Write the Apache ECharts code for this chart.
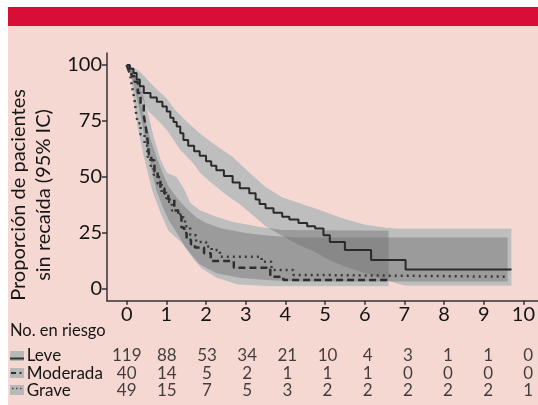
<!DOCTYPE html>
<html><head><meta charset="utf-8">
<script src="https://cdn.jsdelivr.net/npm/echarts@6/dist/echarts.min.js"></script>
<style>
html,body{margin:0;padding:0;background:#fff;}
#frame{position:absolute;left:8px;top:7px;width:530px;height:398px;background:#f6d8d3;}
#bar{position:absolute;left:8px;top:7px;width:530px;height:19px;background:#d80e37;}
#chart{position:absolute;left:0;top:0;width:538px;height:405px;}
</style></head><body>
<div id="frame"></div><div id="bar"></div><div id="chart"></div>
<script>
// ---- data ----
const groupNames = ['Leve', 'Moderada', 'Grave'];
const riskTimes = [0, 1, 2, 3, 4, 5, 6, 7, 8, 9, 10];
const riskLeve = [119, 88, 53, 34, 21, 10, 4, 3, 1, 1, 0];
const riskModerada = [40, 14, 5, 2, 1, 1, 1, 0, 0, 0, 0];
const riskGrave = [49, 15, 7, 5, 3, 2, 2, 2, 2, 2, 1];

const leveKM = [[0,100],[0.08,98.3],[0.17,96.4],[0.25,93.5],[0.33,90.5],[0.43,87.5],[0.6,85.5],[0.76,83.6],[0.9,81.5],[1.01,79.2],[1.1,76.5],[1.18,74.5],[1.26,72.5],[1.35,69.5],[1.43,66.5],[1.55,64],[1.7,61.5],[1.84,59.5],[2.0,57],[2.13,55],[2.26,53],[2.45,50.5],[2.67,47.5],[2.85,45],[3.09,42.7],[3.25,40],[3.35,38],[3.5,36],[3.7,34],[3.92,32.3],[4.1,31],[4.33,29.5],[4.55,28],[4.75,27],[4.96,24],[5.12,21],[5.5,17.4],[6.16,13],[7.03,8.7],[9.7,8.7]];
const moderadaKM = [[0,100],[0.05,97.5],[0.12,95],[0.2,92.5],[0.28,87.5],[0.35,82.5],[0.43,77.5],[0.48,72.5],[0.52,67.5],[0.56,60],[0.62,57.5],[0.7,52.5],[0.78,50],[0.85,45],[0.95,42.5],[1.05,40],[1.2,35],[1.3,32.5],[1.38,27.5],[1.45,25],[1.51,22],[1.62,20],[1.72,18.5],[1.95,16],[2.12,12.5],[2.7,9.5],[3.62,5.5],[3.95,4],[6.6,4]];
const graveKM = [[0,100],[0.04,98],[0.08,96],[0.12,92],[0.16,88],[0.2,84],[0.24,78],[0.28,74],[0.35,69],[0.45,64],[0.52,59],[0.6,55],[0.68,51],[0.78,47],[0.88,43],[1.0,39],[1.14,35],[1.35,32],[1.47,28],[1.6,24],[1.75,21],[2.0,19],[2.14,17.4],[2.35,14.4],[3.4,12.2],[3.65,8.5],[4.2,6.3],[4.5,5.5],[9.58,5.5]];

const leveHi = [[0,100],[0.15,99],[0.3,97.5],[0.45,95],[0.6,92],[0.8,88.5],[1.01,85],[1.22,80],[1.5,75],[1.84,69.5],[2.26,64],[2.67,59],[3.09,52],[3.5,45.5],[3.92,41],[4.33,38.5],[4.84,35.5],[5.42,31.7],[6.0,28.8],[6.5,27.5],[6.8,27],[9.7,27]];
const leveLo = [[0,100],[0.15,95],[0.3,89],[0.45,83],[0.56,79],[0.8,75],[1.01,71],[1.2,66],[1.35,62],[1.68,56],[1.84,52],[2.09,48],[2.51,42],[2.84,38],[3.17,33],[3.5,28],[3.9,24],[4.3,20],[4.75,16.5],[5.1,13],[5.5,10],[6.2,6],[6.8,2.5],[7.03,1.5],[9.7,1.5]];
const moderadaHi = [[0,100],[0.15,98],[0.31,92],[0.52,80],[0.68,68],[0.85,58],[1.01,52],[1.26,50],[1.47,44],[1.6,38.5],[1.84,35.3],[2.26,32.3],[2.67,30],[3.34,27.8],[3.92,26.3],[6.6,26]];
const moderadaLo = [[0,100],[0.15,93],[0.3,82],[0.45,68],[0.6,55],[0.75,44],[0.9,37],[1.05,31],[1.3,24],[1.5,18],[1.7,13],[1.9,9],[2.26,5],[2.8,2],[3.6,1.2],[6.6,1.2]];
const graveHi = [[0,100],[0.1,98],[0.2,94],[0.3,87],[0.45,76],[0.6,67],[0.75,59],[0.9,52],[1.05,46],[1.3,40],[1.5,36],[1.75,32],[2.0,29.5],[2.4,27],[3.0,25],[3.6,23.8],[4.3,23],[9.6,23]];
const graveLo = [[0,100],[0.1,96],[0.18,84],[0.27,72.5],[0.43,59],[0.64,44],[0.85,34],[1.05,26],[1.39,20.5],[1.6,16],[1.84,11],[2.26,7],[2.84,5],[3.5,4],[4.3,3.3],[9.6,3.3]];

const yTitle = ['Proporción de pacientes', 'sin recaída (95% IC)'];
const riskTitle = 'No. en riesgo';

// ---- build ----
const FONT = 'Lato, "Open Sans", sans-serif';
const TXT = '#151515';
const bands = [{lo: leveLo, hi: leveHi}, {lo: moderadaLo, hi: moderadaHi}, {lo: graveLo, hi: graveHi}];
const kms = [leveKM, moderadaKM, graveKM];
const risks = [riskLeve, riskModerada, riskGrave];

function bandRender(fill, opacity) {
  return function (params, api) {
    const b = bands[params.dataIndex];
    const up = b.hi.map(p => api.coord(p));
    const lo = b.lo.map(p => api.coord(p)).reverse();
    return {type: 'polygon', shape: {points: up.concat(lo)}, style: {fill: fill, opacity: opacity}};
  };
}

const lineStyles = [
  {color: '#2a2a2a', width: 2, type: 'solid'},
  {color: '#2e2e2e', width: 2.5, type: [7, 4]},
  {color: '#3a3a3a', width: 2.5, type: [2, 4]}
];

const series = [
  {type: 'custom', xAxisIndex: 0, yAxisIndex: 0, data: bands.map((b, i) => [i, 0]), renderItem: bandRender('#ffffff', 1), z: 1, silent: true},
  {type: 'custom', xAxisIndex: 0, yAxisIndex: 0, data: bands.map((b, i) => [i, 0]), renderItem: bandRender('#727272', 0.46), z: 2, silent: true}
];
kms.forEach((d, i) => series.push({
  type: 'line', xAxisIndex: 0, yAxisIndex: 0, data: d, step: 'end', showSymbol: false,
  lineStyle: lineStyles[i], z: 5, silent: true
}));
risks.forEach((r, gi) => series.push({
  type: 'scatter', xAxisIndex: 2, yAxisIndex: 2, symbol: 'rect', symbolSize: 1,
  itemStyle: {color: 'rgba(0,0,0,0)'},
  data: riskTimes.map((t, i) => [t, groupNames[gi], r[i]]),
  label: {show: true, position: 'inside', formatter: p => String(p.value[2]), fontSize: 17, color: TXT, fontFamily: FONT},
  silent: true
}));

const axisCol = '#333';
const option = {
  animation: false,
  backgroundColor: 'transparent',
  textStyle: {fontFamily: FONT},
  grid: [
    {left: 126.7, right: 9.7, top: 65, bottom: 116},
    {left: 107, right: 0, top: 53, bottom: 104.3},
    {left: 126.7, right: 9.7, top: 347.25, bottom: 5.25}
  ],
  xAxis: [
    {gridIndex: 0, type: 'value', min: 0, max: 10, interval: 1, offset: 11.7,
     axisLine: {show: false, onZero: false}, axisTick: {show: true, length: 4, lineStyle: {color: axisCol, width: 1.5}},
     axisLabel: {fontSize: 20, margin: 4, color: TXT, fontFamily: FONT}, splitLine: {show: false}},
    {gridIndex: 1, type: 'value', min: 0, max: 1,
     axisLine: {show: true, onZero: false, lineStyle: {color: axisCol, width: 1.5}}, axisTick: {show: false}, axisLabel: {show: false}, splitLine: {show: false}},
    {gridIndex: 2, type: 'value', min: 0, max: 10, show: false}
  ],
  yAxis: [
    {gridIndex: 0, type: 'value', min: 0, max: 100, interval: 25, offset: 19.7,
     axisLine: {show: false, onZero: false}, axisTick: {show: true, length: 5, lineStyle: {color: axisCol, width: 1.5}},
     axisLabel: {fontSize: 20, margin: 5, color: TXT, fontFamily: FONT}, splitLine: {show: false}},
    {gridIndex: 1, type: 'value', min: 0, max: 1,
     axisLine: {show: true, onZero: false, lineStyle: {color: axisCol, width: 1.5}}, axisTick: {show: false}, axisLabel: {show: false}, splitLine: {show: false}},
    {gridIndex: 2, type: 'category', data: groupNames, inverse: true,
     axisLine: {show: false}, axisTick: {show: false}, splitLine: {show: false},
     axisLabel: {show: true, interval: 0, hideOverlap: false, align: 'left', margin: 100, fontSize: 17, color: TXT, fontFamily: FONT}}
  ],
  graphic: [
    {type: 'text', x: 19, y: 195, rotation: Math.PI / 2, style: {text: yTitle[0], font: '20px ' + FONT, fill: TXT, align: 'center', verticalAlign: 'middle'}},
    {type: 'text', x: 44, y: 195, rotation: Math.PI / 2, style: {text: yTitle[1], font: '20px ' + FONT, fill: TXT, align: 'center', verticalAlign: 'middle'}},
    {type: 'text', x: 10, y: 331, style: {text: riskTitle, font: '16.5px ' + FONT, fill: TXT, align: 'left', verticalAlign: 'middle'}},
    // legend icons
    {type: 'rect', shape: {x: 10, y: 351, width: 14, height: 10}, style: {fill: '#b8b8b8'}},
    {type: 'line', shape: {x1: 10, y1: 358.5, x2: 24, y2: 358.5}, style: {stroke: '#333', lineWidth: 2}},
    {type: 'rect', shape: {x: 10, y: 368, width: 14, height: 10}, style: {fill: '#b8b8b8'}},
    {type: 'line', shape: {x1: 11, y1: 373, x2: 16, y2: 373}, style: {stroke: '#333', lineWidth: 2}},
    {type: 'line', shape: {x1: 19.5, y1: 373, x2: 21.5, y2: 373}, style: {stroke: '#333', lineWidth: 2}},
    {type: 'rect', shape: {x: 10, y: 385, width: 14, height: 10}, style: {fill: '#b8b8b8'}},
    {type: 'line', shape: {x1: 12, y1: 388.5, x2: 23, y2: 388.5}, style: {stroke: '#444', lineWidth: 1.5, lineDash: [1.5, 2.5]}}
  ],
  series: series
};
const chart = echarts.init(document.getElementById('chart'), null, {renderer: 'canvas'});
chart.setOption(option);
</script></body></html>
